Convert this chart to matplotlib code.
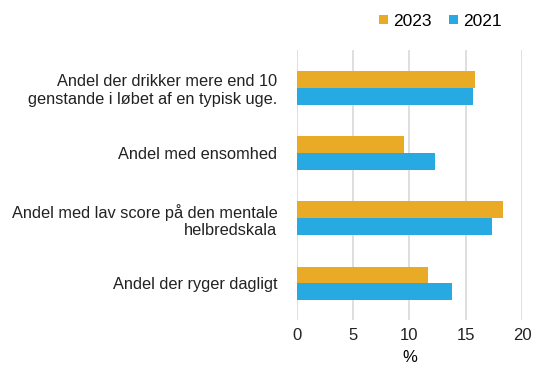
import matplotlib
matplotlib.use("Agg")
import matplotlib.pyplot as plt
import numpy as np

plt.rcParams["font.family"] = ["Liberation Sans", "DejaVu Sans"]

categories = [
    "Andel der drikker mere end 10\ngenstande i løbet af en typisk uge.",
    "Andel med ensomhed",
    "Andel med lav score på den mentale\nhelbredskala",
    "Andel der ryger dagligt",
]
values_2023 = [15.8, 9.5, 18.3, 11.6]
values_2021 = [15.6, 12.3, 17.3, 13.8]
x_ticks = [0, 5, 10, 15, 20]

color_2023 = "#E9AB26"
color_2021 = "#27AAE1"

fig = plt.figure(figsize=(5.5, 3.86), dpi=100)
ax = fig.add_axes([0.5395, 0.171, 0.41, 0.6995])

y = np.arange(len(categories))
h = 0.258
ax.barh(y - h / 2, values_2023, height=h, color=color_2023, label="2023", zorder=3)
ax.barh(y + h / 2, values_2021, height=h, color=color_2021, label="2021", zorder=3)

ax.set_xlim(0, 20)
ax.set_ylim(3.56, -0.58)
ax.set_xticks(x_ticks)
ax.set_xticklabels([str(t) for t in x_ticks], fontsize=12)
ax.set_yticks(y)
ax.set_yticklabels(categories, fontsize=11.8, ha="right", multialignment="right")
ax.tick_params(axis="both", length=0, colors="#222222")
ax.tick_params(axis="y", pad=14)
ax.tick_params(axis="x", pad=6)
ax.grid(axis="x", color="#D9D9D9", linewidth=1.2, zorder=0)
ax.set_axisbelow(True)
for s in ax.spines.values():
    s.set_visible(False)
ax.set_xlabel("%", fontsize=12, labelpad=5)

fig.legend(loc="upper right", bbox_to_anchor=(0.94, 1.005), ncol=2, frameon=False,
           fontsize=12.5, handlelength=0.5, handleheight=0.5, handletextpad=0.3,
           columnspacing=1.0)

fig.savefig("out.png", dpi=100)
